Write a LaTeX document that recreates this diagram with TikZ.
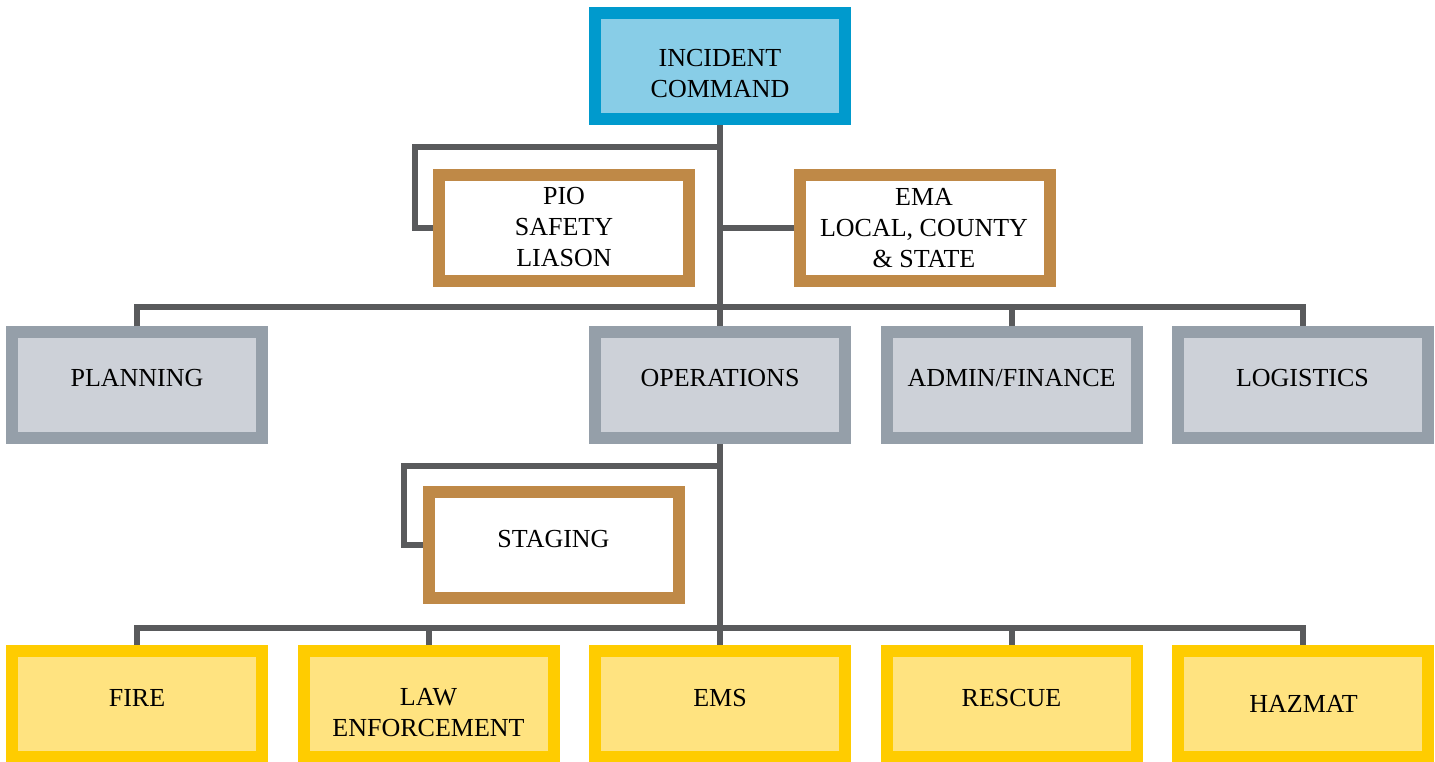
\documentclass[tikz,border=0pt]{standalone}
\usepackage{fontspec}
\setmainfont{Liberation Serif}
\definecolor{conncol}{HTML}{595A5C}
\definecolor{icborder}{HTML}{009ACD}
\definecolor{icfill}{HTML}{88CDE7}
\definecolor{brborder}{HTML}{BF8947}
\definecolor{grborder}{HTML}{959FA9}
\definecolor{grfill}{HTML}{CDD1D8}
\definecolor{yeborder}{HTML}{FFCC00}
\definecolor{yefill}{HTML}{FFE380}
\tikzset{
  boxbase/.style={rectangle, line width=12pt, minimum width=250pt, minimum height=106pt, inner sep=0pt},
  icbox/.style={boxbase, draw=icborder, fill=icfill},
  brbox/.style={boxbase, draw=brborder, fill=white},
  grbox/.style={boxbase, draw=grborder, fill=grfill},
  yebox/.style={boxbase, draw=yeborder, fill=yefill},
  txt/.style={align=center, inner sep=0pt, font=\fontsize{26}{31}\selectfont, text=black},
  conn/.style={draw=conncol, line width=6pt, line join=miter},
}
\begin{document}
\begin{tikzpicture}[x=1pt, y=-1pt]
\useasboundingbox (0,0) rectangle (1435,762);
% connectors (behind boxes)
\coordinate (j1) at (720,147.5);
\coordinate (j2) at (720,307);
\coordinate (j3) at (720,465.5);
\coordinate (j4) at (720,628);
% boxes
\node[icbox] (ic) at (720,66) {};
\node[brbox] (pio) at (564,228) {};
\node[brbox] (ema) at (924.5,228) {};
\node[grbox] (plan) at (137,385) {};
\node[grbox] (ops) at (720,385) {};
\node[grbox] (adm) at (1011.5,385) {};
\node[grbox] (log) at (1302.5,385) {};
\node[brbox] (stg) at (553.5,545) {};
\node[yebox] (fire) at (137,704) {};
\node[yebox] (law) at (428.5,704) {};
\node[yebox] (ems) at (720,704) {};
\node[yebox] (res) at (1011.5,704) {};
\node[yebox] (haz) at (1302.5,704) {};
% connectors
\draw[conn] (ic.south) -- (ops.north);
\draw[conn] (pio.west) -- ++(-18,0) |- (j1);
\draw[conn] (ema.west) -- (ema.west -| ic.south);
\draw[conn] (plan.north) |- (j2) -| (log.north);
\draw[conn] (adm.north) -- (adm.north |- j2);
\draw[conn] (ops.south) -- (ems.north);
\draw[conn] (stg.west) -- ++(-18.5,0) |- (j3);
\draw[conn] (fire.north) |- (j4) -| (haz.north);
\draw[conn] (law.north) -- (law.north |- j4);
\draw[conn] (res.north) -- (res.north |- j4);
% texts
\node[txt] (ict) at (720,74) {INCIDENT\\COMMAND};
\node[txt] (piot) at (564,227) {PIO\\SAFETY\\LIASON};
\node[txt] (emat) at (924,228) {EMA\\LOCAL, COUNTY\\\& STATE};
\node[txt] (plant) at (137,378) {PLANNING};
\node[txt] (opst) at (720,378) {OPERATIONS};
\node[txt] (admt) at (1011.5,378) {ADMIN/FINANCE};
\node[txt] (logt) at (1302.5,378) {LOGISTICS};
\node[txt] (stgt) at (553.5,539) {STAGING};
\node[txt] (firet) at (137,698) {FIRE};
\node[txt] (lawt) at (428.5,713) {LAW\\ENFORCEMENT};
\node[txt] (emst) at (720,698) {EMS};
\node[txt] (rest) at (1011.5,698) {RESCUE};
\node[txt] (hazt) at (1303.5,704) {HAZMAT};
\end{tikzpicture}
\end{document}
